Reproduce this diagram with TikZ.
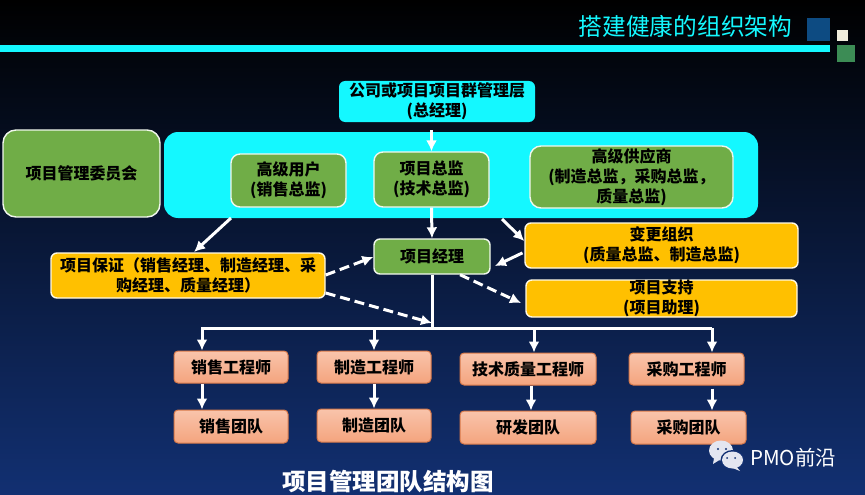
\documentclass[tikz,border=0pt]{standalone}
\usepackage{fontspec}
\setmainfont{Noto Sans CJK SC}
\usetikzlibrary{arrows.meta}

\definecolor{cyanbar}{HTML}{14F8FF}
\definecolor{leafgreen}{HTML}{70AD47}
\definecolor{goldbox}{HTML}{FFC000}
\definecolor{salmonedge}{HTML}{D8794A}
\definecolor{salmonhi}{HTML}{F9C4AB}
\definecolor{salmonlo}{HTML}{F4A47E}
\definecolor{navybot}{HTML}{123072}
\definecolor{navymid}{HTML}{0A1D4E}
\definecolor{squareblue}{HTML}{0D4B82}
\definecolor{squarecream}{HTML}{F0ECDC}
\definecolor{squaregreen}{HTML}{3C8C55}
\definecolor{bubble}{HTML}{E4E6F0}

\begin{document}
\begin{tikzpicture}[
x=1pt,y=-1pt,
box/.style={
align=center,
rounded corners=6pt,
inner sep=0pt,
text=black,
font=\fontsize{16}{20}\selectfont\bfseries
},
greenbox/.style={box,draw=white!90!leafgreen,line width=1.4pt,fill=leafgreen},
goldenbox/.style={box,draw=white!90!goldbox,line width=1.4pt,fill=goldbox},
salmonbox/.style={box,draw=salmonedge,line width=1pt,top color=salmonhi,bottom color=salmonlo,rounded corners=4pt},
whiteline/.style={draw=white,line width=3pt},
solidarrow/.style={whiteline,-{Latex[length=11pt,width=11pt]}},
dasharrow/.style={solidarrow,dash pattern=on 10pt off 5pt}
]

% background
\shade[top color=black,middle color=navymid,bottom color=navybot] (0,0) rectangle (865,495);
\useasboundingbox (0,0) rectangle (865,495);

% header
\fill[cyanbar] (0,45) rectangle (830,52);
\fill[squareblue] (807,18) rectangle (830,41);
\fill[squarecream] (837,30) rectangle (848,41);
\fill[squaregreen] (837,45) rectangle (855,62);
\node[text=cyanbar,font=\fontsize{23.7}{26}\selectfont,inner sep=0pt] (title) at (685.5,26) {搭建健康的组织架构};

% upper part
\node[box,fill=cyanbar,minimum width=196pt,minimum height=41pt] (board) at (437,101.5) {公司或项目项目群管理层\\(总经理)};
\node[box,fill=cyanbar,rounded corners=14pt,minimum width=594pt,minimum height=86pt] (panel) at (461,175) {};
\node[greenbox,rounded corners=13pt,minimum width=157pt,minimum height=87pt] (committee) at (81.5,173.5) {项目管理委员会};
\node[greenbox,rounded corners=9pt,minimum width=115pt,minimum height=53pt] (user) at (288.5,180.5) {高级用户\\(销售总监)};
\node[greenbox,rounded corners=9pt,minimum width=115pt,minimum height=55pt] (director) at (431.5,179.5) {项目总监\\(技术总监)};
\node[greenbox,rounded corners=11pt,minimum width=203pt,minimum height=62pt] (supplier) at (631.5,177) {高级供应商\\(制造总监，采购总监，\\质量总监)};

% middle part
\node[greenbox,minimum width=116pt,minimum height=35pt] (manager) at (432,256.5) {项目经理};
\node[goldenbox,minimum width=274pt,minimum height=45pt] (assure) at (188,275.5) {项目保证（销售经理、制造经理、采\\购经理、质量经理）};
\node[goldenbox,minimum width=273pt,minimum height=45pt] (change) at (661.5,245.5) {变更组织\\(质量总监、制造总监)};
\node[goldenbox,minimum width=271pt,minimum height=37pt] (support) at (661.5,298.5) {项目支持\\(项目助理)};

% engineers
\node[salmonbox,minimum width=114pt,minimum height=32pt] (saleseng) at (231,367) {销售工程师};
\node[salmonbox,minimum width=114pt,minimum height=32pt] (makeeng) at (374,367) {制造工程师};
\node[salmonbox,minimum width=136pt,minimum height=32pt] (techeng) at (528,369) {技术质量工程师};
\node[salmonbox,minimum width=115pt,minimum height=32pt] (buyeng) at (686.5,369) {采购工程师};

% teams
\node[salmonbox,minimum width=114pt,minimum height=33pt] (salesteam) at (231,426.5) {销售团队};
\node[salmonbox,minimum width=114pt,minimum height=33pt] (maketeam) at (374,425.5) {制造团队};
\node[salmonbox,minimum width=136pt,minimum height=33pt] (techteam) at (528,427.5) {研发团队};
\node[salmonbox,minimum width=115pt,minimum height=33pt] (buyteam) at (688.5,427.5) {采购团队};

% bus
\coordinate (busleft) at (202,328);
\coordinate (busmake) at (374,328);
\coordinate (bustech) at (534,328);
\coordinate (busbuy) at (712,328);
\coordinate (busmid) at (432,328);
\coordinate (techdrop) at (531,328);
\coordinate (panelsw) at (231,218);
\coordinate (panelse) at (502,219);

\draw[solidarrow,shorten <=8pt] (board.south -| director) -- (director.north);
\draw[solidarrow] (director.south) -- (manager.north);
\draw[solidarrow] (panelsw) -- (194,252);
\draw[solidarrow] (panelse) -- (change.west |- 0,241);
\draw[solidarrow,shorten <=2pt] (change.west |- 0,252) -- (495,266);
\draw[dasharrow] (assure.east |- 0,275) -- (manager.west |- 0,257);
\draw[dasharrow] (assure.east |- 0,293) -- (432,323);
\draw[dasharrow] (manager.south -| 460,0) -- (521,303);

\draw[whiteline] (manager.south) -- (busmid);
\draw[whiteline] ([yshift=-4pt]busleft) -- (busleft) -- (busbuy);
\draw[solidarrow] (busleft) -- (busleft |- saleseng.north);
\draw[solidarrow] (busmake) -- (busmake |- makeeng.north);
\draw[solidarrow] (bustech) -- (bustech |- techeng.north);
\draw[solidarrow] (busbuy) -- (busbuy |- buyeng.north);
\draw[solidarrow] (saleseng.south -| busleft) -- (salesteam.north -| busleft);
\draw[solidarrow] (makeeng.south) -- (maketeam.north);
\draw[solidarrow] (techeng.south -| techdrop) -- (techteam.north -| techdrop);
\draw[solidarrow,shorten <=3pt] (buyeng.south -| busbuy) -- (buyteam.north -| busbuy);

% caption
\node[text=white,inner sep=0pt,font=\fontsize{23.5}{26}\selectfont\bfseries] (caption) at (388,482) {项目管理团队结构图};

% wechat mark
\fill[bubble] (721,450.5) ellipse (12pt and 10pt);
\fill[bubble] (714,458) -- (713,464) -- (721,459) -- cycle;
\fill[navybot] (732.5,460) ellipse (12pt and 10pt);
\fill[bubble] (732.5,460) ellipse (10.5pt and 8.5pt);
\fill[bubble] (736,466) -- (740,471) -- (730,467) -- cycle;
\fill[navybot] (718,449) circle (1.2pt) (726,449) circle (1.2pt) (727,458) circle (1pt) (735,458) circle (1pt);
\node[text=white,inner sep=0pt,anchor=west,font=\fontsize{20.5}{22}\selectfont] (mark) at (750,458) {PMO前沿};

\end{tikzpicture}
\end{document}
